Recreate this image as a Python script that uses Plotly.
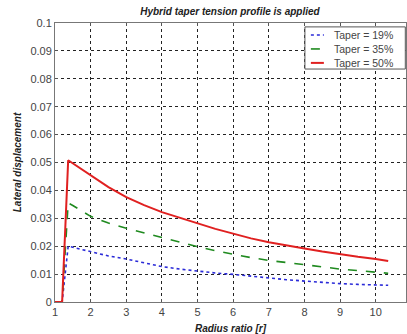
import plotly.graph_objects as go

# Data
radius_ratio = [1.0, 1.2, 1.37, 1.5, 2, 2.5, 3, 3.5, 4, 4.5, 5, 5.5, 6, 6.5, 7,
                7.5, 8, 8.5, 9, 9.5, 10, 10.35]
disp_19 = [0.0, 0.0, 0.0200, 0.0196, 0.0178, 0.0165, 0.0154, 0.0140, 0.0127, 0.0118,
           0.0110, 0.0104, 0.0099, 0.0092, 0.0086, 0.0080, 0.0075, 0.0070, 0.0066,
           0.0063, 0.0061, 0.0060]
disp_35 = [0.0, 0.0, 0.0355, 0.0346, 0.0307, 0.0283, 0.0264, 0.0247, 0.0230, 0.0213,
           0.0198, 0.0184, 0.0171, 0.0159, 0.0149, 0.0142, 0.0135, 0.0126, 0.0118,
           0.0112, 0.0107, 0.0103]
disp_50 = [0.0, 0.0, 0.0508, 0.0497, 0.0452, 0.0412, 0.0376, 0.0347, 0.0322, 0.0302,
           0.0283, 0.0262, 0.0245, 0.0228, 0.0214, 0.0202, 0.0192, 0.0181, 0.0171,
           0.0162, 0.0154, 0.0147]
series_names = ["Taper = 19%", "Taper = 35%", "Taper = 50%"]

x_ticks = [1, 2, 3, 4, 5, 6, 7, 8, 9, 10]
y_ticks = [0, 0.01, 0.02, 0.03, 0.04, 0.05, 0.06, 0.07, 0.08, 0.09, 0.1]
y_tick_text = ["0", "0.01", "0.02", "0.03", "0.04", "0.05", "0.06", "0.07", "0.08", "0.09", "0.1"]

styles = [
    dict(color="#2b2bd8", width=1.6, dash="dot"),
    dict(color="#1f8a1f", width=1.6, dash="dash"),
    dict(color="#e02020", width=2),
]

fig = go.Figure()
for name, ys, st in zip(series_names, [disp_19, disp_35, disp_50], styles):
    fig.add_trace(go.Scatter(x=radius_ratio, y=ys, mode="lines", name=name,
                             line=st, showlegend=False))

# Compact MATLAB-like legend drawn in paper coordinates
lx0, lx1, ly1, ly0 = 0.712, 0.998, 0.986, 0.835
fig.add_shape(type="rect", xref="paper", yref="paper", x0=lx0, x1=lx1, y0=ly0, y1=ly1,
              line=dict(color="#555", width=1), fillcolor="white", layer="above")
row_y = [0.957, 0.907, 0.857]
for name, st, ry in zip(series_names, styles, row_y):
    fig.add_shape(type="line", xref="paper", yref="paper", x0=0.729, x1=0.766, y0=ry, y1=ry,
                  line=dict(color=st["color"], width=st["width"], dash=st.get("dash", "solid")),
                  layer="above")
    fig.add_annotation(xref="paper", yref="paper", x=0.79, y=ry, text=name,
                       showarrow=False, xanchor="left", yanchor="middle",
                       font=dict(size=10.5, color="#444"))

font_family = "Liberation Sans, Arial, sans-serif"
fig.update_layout(
    width=407, height=334,
    margin=dict(l=55, r=1, t=23, b=32),
    paper_bgcolor="white", plot_bgcolor="white",
    font=dict(family=font_family, size=11, color="#444"),
    title=dict(text="<b><i>Hybrid taper tension profile is applied</i></b>",
               x=0.565, xanchor="center", y=0.965, yanchor="middle",
               font=dict(size=10, color="#222")),
    showlegend=False,
    xaxis=dict(range=[1, 10.85], tickvals=x_ticks,
               showgrid=True, gridcolor="#222", griddash="dot", gridwidth=1,
               showline=True, linecolor="#777", linewidth=1, mirror="allticks",
               ticks="inside", ticklen=3, tickcolor="#555",
               zeroline=False,
               title=dict(text="<b><i>Radius ratio [r]</i></b>", standoff=9,
                          font=dict(size=10, color="#222"))),
    yaxis=dict(range=[0, 0.1], tickvals=y_ticks, ticktext=y_tick_text,
               showgrid=True, gridcolor="#222", griddash="dot", gridwidth=1,
               showline=True, linecolor="#777", linewidth=1, mirror="allticks",
               ticks="inside", ticklen=3, tickcolor="#555",
               zeroline=False,
               title=dict(text="<b><i>Lateral displacement</i></b>", standoff=6,
                          font=dict(size=10, color="#222"))),
)

fig.write_html("out.html")
